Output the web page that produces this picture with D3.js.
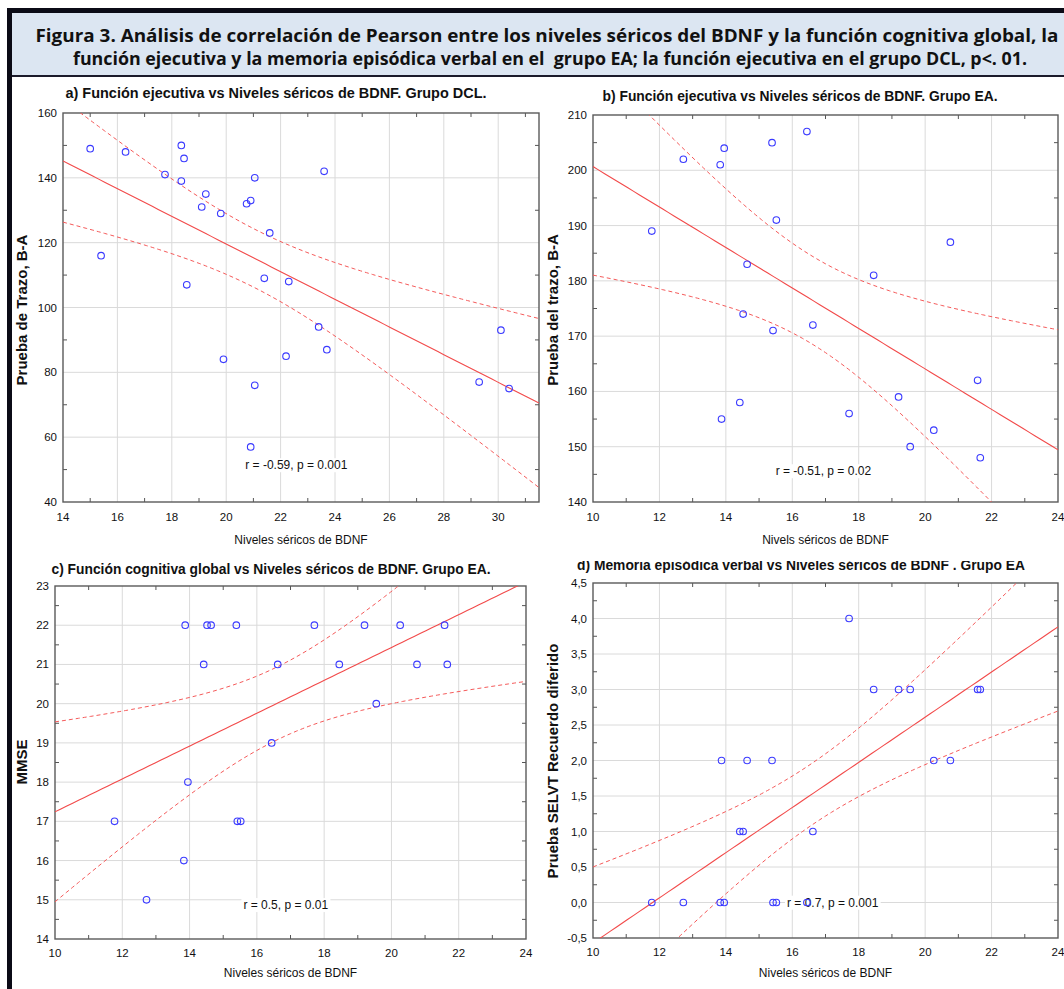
<!DOCTYPE html>
<html>
<head>
<meta charset="utf-8">
<script src="https://cdn.jsdelivr.net/npm/d3@7"></script>
<style>
  body { margin: 0; background: #fff; }
  svg { display: block; }
  text { font-family: "Liberation Sans", Arial, sans-serif; }
</style>
</head>
<body>
<script>
// Grupo DCL: BDNF vs Prueba de Trazo B-A
const dclBdnf = [15.0, 15.4, 16.3, 17.75, 18.35, 18.45, 18.35, 18.55, 19.25, 19.1, 19.8, 20.75, 20.9, 21.05,
  21.6, 21.4, 22.3, 23.6, 19.9, 21.05, 20.9, 22.2, 23.4, 23.7, 30.1, 29.3, 30.4];
const dclTrazo = [149, 116, 148, 141, 150, 146, 139, 107, 135, 131, 129, 132, 133, 140,
  123, 109, 108, 142, 84, 76, 57, 85, 94, 87, 93, 77, 75];

// Grupo EA: same subjects in panels b, c, d
const eaBdnf = [11.77, 12.72, 13.83, 13.87, 13.95, 14.42, 14.52, 14.64, 15.39, 15.42, 15.52,
  16.44, 16.62, 17.71, 18.45, 19.2, 19.55, 20.26, 20.76, 21.58, 21.66];
const eaTrazo = [189, 202, 201, 155, 204, 158, 174, 183, 205, 171, 191,
  207, 172, 156, 181, 159, 150, 153, 187, 162, 148];
const eaMmse = [17, 15, 16, 22, 18, 21, 22, 22, 22, 17, 17,
  19, 21, 22, 21, 22, 20, 22, 21, 22, 21];
const eaSelvt = [0, 0, 0, 2, 0, 1, 1, 2, 2, 0, 0,
  0, 1, 4, 3, 3, 3, 2, 2, 3, 3];

// ticks
const xTicksA = [14, 16, 18, 20, 22, 24, 26, 28, 30];
const yTicksA = [40, 60, 80, 100, 120, 140, 160];
const xTicksEA = [10, 12, 14, 16, 18, 20, 22, 24];
const yTicksB = [140, 150, 160, 170, 180, 190, 200, 210];
const yTicksC = [14, 15, 16, 17, 18, 19, 20, 21, 22, 23];
const yTicksD = [-0.5, 0, 0.5, 1, 1.5, 2, 2.5, 3, 3.5, 4, 4.5];

// 95% t critical values (df = n - 2)
const tCrit = { 25: 2.0595, 19: 2.093 };

const W = 1064;
const H = 989;

const comma = d3.formatLocale({
  decimal: ',', thousands: '.', grouping: [3], currency: ['', ''], minus: '-',
}).format('.1f');

const svg = d3.select('body').append('svg')
  .attr('width', W)
  .attr('height', H);

// page frame and caption box
svg.append('rect').attr('width', W).attr('height', H).attr('fill', '#fff');
svg.append('rect').attr('x', 12).attr('y', 13).attr('width', W - 12).attr('height', 62)
  .attr('fill', '#dce6f2');
svg.append('rect').attr('x', 7).attr('y', 8).attr('width', W - 7).attr('height', 5)
  .attr('fill', '#0b0b16');
svg.append('rect').attr('x', 7).attr('y', 8).attr('width', 5).attr('height', H - 8)
  .attr('fill', '#0b0b16');
svg.append('rect').attr('x', 12).attr('y', 75).attr('width', W - 12).attr('height', 2)
  .attr('fill', '#1b1b2b');

const caption = [
  'Figura 3. Análisis de correlación de Pearson entre los niveles séricos del BDNF y la función cognitiva global, la',
  'función ejecutiva y la memoria episódica verbal en el  grupo EA; la función ejecutiva en el grupo DCL, p<. 01.',
];
const captionLen = [1023, 954];

svg.selectAll('.caption')
  .data(caption)
  .enter()
  .append('text')
  .attr('class', 'caption')
  .attr('x', (d, i) => (i === 0 ? 547 : 550))
  .attr('y', (d, i) => 42 + i * 23)
  .attr('text-anchor', 'middle')
  .attr('textLength', (d, i) => captionLen[i])
  .attr('lengthAdjust', 'spacingAndGlyphs')
  .style('font-family', '"Open Sans", "Noto Sans", sans-serif')
  .style('font-weight', 'bold')
  .style('font-size', '18px')
  .style('white-space', 'pre')
  .attr('fill', '#111')
  .text(d => d);

function fitLine(xs, ys, t) {
  const n = xs.length;
  const mx = d3.mean(xs);
  const my = d3.mean(ys);
  let sxx = 0;
  let sxy = 0;
  for (let i = 0; i < n; i += 1) {
    sxx += (xs[i] - mx) ** 2;
    sxy += (xs[i] - mx) * (ys[i] - my);
  }
  const b = sxy / sxx;
  const a = my - b * mx;
  const sse = d3.sum(xs, (v, i) => (ys[i] - a - b * v) ** 2);
  const s = Math.sqrt(sse / (n - 2));
  return (xv) => {
    const yh = a + b * xv;
    const h = t * s * Math.sqrt(1 / n + (xv - mx) ** 2 / sxx);
    return [yh, yh - h, yh + h];
  };
}

function drawPanel(p) {
  const x = d3.scaleLinear().domain(p.xDomain).range([p.left, p.right]);
  const y = d3.scaleLinear().domain(p.yDomain).range([p.bottom, p.top]);
  const g = svg.append('g');

  const clipId = `clip-${p.id}`;
  svg.append('clipPath').attr('id', clipId)
    .append('rect')
    .attr('x', p.left)
    .attr('y', p.top)
    .attr('width', p.right - p.left)
    .attr('height', p.bottom - p.top);

  const [x0, x1] = p.xDomain;
  const [y0, y1] = p.yDomain;
  const eps = 1e-6;

  // grid
  g.selectAll('.gx')
    .data(p.xTicks.filter(v => v > x0 + eps && v < x1 - eps))
    .enter()
    .append('line')
    .attr('x1', d => x(d)).attr('x2', d => x(d))
    .attr('y1', p.top).attr('y2', p.bottom)
    .attr('stroke', '#dadada');
  g.selectAll('.gy')
    .data(p.yTicks.filter(v => v > y0 + eps && v < y1 - eps))
    .enter()
    .append('line')
    .attr('x1', p.left).attr('x2', p.right)
    .attr('y1', d => y(d)).attr('y2', d => y(d))
    .attr('stroke', '#dadada');

  // minor ticks on all four sides
  const xMinor = d3.range(p.xTicks[0] - p.xStep / 2, x1 + eps, p.xStep)
    .filter(v => v > x0 + eps && v < x1 - eps);
  const yMinor = d3.range(p.yTicks[0] + p.yStep / 2, y1, p.yStep)
    .filter(v => v > y0 + eps && v < y1 - eps);
  const tk = 4;
  xMinor.forEach((v) => {
    g.append('line').attr('x1', x(v)).attr('x2', x(v))
      .attr('y1', p.bottom).attr('y2', p.bottom - tk).attr('stroke', '#555');
    g.append('line').attr('x1', x(v)).attr('x2', x(v))
      .attr('y1', p.top).attr('y2', p.top + tk).attr('stroke', '#555');
  });
  yMinor.forEach((v) => {
    g.append('line').attr('x1', p.left).attr('x2', p.left + tk)
      .attr('y1', y(v)).attr('y2', y(v)).attr('stroke', '#555');
    g.append('line').attr('x1', p.right).attr('x2', p.right - tk)
      .attr('y1', y(v)).attr('y2', y(v)).attr('stroke', '#555');
  });

  // frame
  g.append('rect')
    .attr('x', p.left).attr('y', p.top)
    .attr('width', p.right - p.left).attr('height', p.bottom - p.top)
    .attr('fill', 'none')
    .attr('stroke', '#5a5a5a')
    .attr('stroke-width', 1.4);

  // tick labels
  g.selectAll('.xl')
    .data(p.xTicks)
    .enter()
    .append('text')
    .attr('x', d => x(d))
    .attr('y', p.bottom + p.xLabelGap)
    .attr('text-anchor', 'middle')
    .style('font-size', '11.5px')
    .attr('fill', '#111')
    .text(d => d);
  g.selectAll('.yl')
    .data(p.yTicks)
    .enter()
    .append('text')
    .attr('x', p.left - 6)
    .attr('y', d => y(d) + 4)
    .attr('text-anchor', 'end')
    .style('font-size', '11.5px')
    .attr('fill', '#111')
    .text(d => p.yFormat(d));

  // regression line with 95% confidence band
  const f = fitLine(p.xs, p.ys, p.t);
  const samples = d3.range(0, 81).map(i => x0 + (x1 - x0) * i / 80);
  const fits = samples.map(v => [v, ...f(v)]);
  const lineAt = k => d3.line().x(d => x(d[0])).y(d => y(d[k]));
  const fg = g.append('g').attr('clip-path', `url(#${clipId})`);
  fg.append('path')
    .attr('d', lineAt(1)(fits))
    .attr('fill', 'none')
    .attr('stroke', '#f24a4a')
    .attr('stroke-width', 1.1);
  [2, 3].forEach((k) => {
    fg.append('path')
      .attr('d', lineAt(k)(fits))
      .attr('fill', 'none')
      .attr('stroke', '#f55a5a')
      .attr('stroke-width', 1)
      .attr('stroke-dasharray', '4,3');
  });

  // correlation note (opaque background like the original)
  const note = g.append('text')
    .attr('x', x(p.noteAt[0]))
    .attr('y', y(p.noteAt[1]))
    .attr('dy', '0.35em')
    .style('font-size', '12px')
    .attr('fill', '#111')
    .text(p.note);
  const bb = note.node().getBBox();
  g.insert('rect', () => note.node())
    .attr('x', bb.x - 2).attr('y', bb.y)
    .attr('width', bb.width + 4).attr('height', bb.height)
    .attr('fill', '#fff');

  // points
  g.selectAll('.pt')
    .data(p.xs.map((v, i) => [v, p.ys[i]]))
    .enter()
    .append('circle')
    .attr('cx', d => x(d[0]))
    .attr('cy', d => y(d[1]))
    .attr('r', 3.3)
    .attr('fill', 'none')
    .attr('stroke', '#3a3aff')
    .attr('stroke-width', 1.1);

  // titles
  const tg = svg.append('g');
  if (p.titleClip) {
    svg.append('clipPath').attr('id', `tclip-${p.id}`)
      .append('rect')
      .attr('x', 0).attr('y', p.titleClip)
      .attr('width', W).attr('height', 40);
    tg.attr('clip-path', `url(#tclip-${p.id})`);
  }
  tg.append('text')
    .attr('x', p.titleX)
    .attr('y', p.titleY)
    .attr('text-anchor', 'middle')
    .attr('textLength', p.titleLen)
    .attr('lengthAdjust', 'spacingAndGlyphs')
    .style('font-size', '14px')
    .style('font-weight', 'bold')
    .attr('fill', '#111')
    .text(p.title);

  g.append('text')
    .attr('x', (p.left + p.right) / 2)
    .attr('y', p.bottom + p.xTitleGap)
    .attr('text-anchor', 'middle')
    .style('font-size', '12px')
    .attr('fill', '#111')
    .text(p.xTitle);

  g.append('text')
    .attr('transform', `translate(${p.yTitleX},${p.yTitleY}) rotate(-90)`)
    .attr('text-anchor', 'middle')
    .style('font-size', '15px')
    .style('font-weight', 'bold')
    .attr('fill', '#111')
    .text(p.yTitle);
}

const intFmt = d => String(d);

drawPanel({
  id: 'a',
  xs: dclBdnf,
  ys: dclTrazo,
  t: tCrit[dclBdnf.length - 2],
  xDomain: [14, 31.5],
  yDomain: [40, 160],
  xTicks: xTicksA,
  yTicks: yTicksA,
  xStep: 2,
  yStep: 20,
  yFormat: intFmt,
  left: 63,
  right: 539,
  top: 113,
  bottom: 502,
  xLabelGap: 19,
  xTitleGap: 42,
  title: 'a) Función ejecutiva vs Niveles séricos de BDNF. Grupo DCL.',
  titleX: 276,
  titleY: 98,
  titleLen: 421,
  xTitle: 'Niveles séricos de BDNF',
  yTitle: 'Prueba de Trazo, B-A',
  yTitleX: 26.5,
  yTitleY: 310,
  note: 'r = -0.59, p = 0.001',
  noteAt: [20.7, 51.4],
});

drawPanel({
  id: 'b',
  xs: eaBdnf,
  ys: eaTrazo,
  t: tCrit[eaBdnf.length - 2],
  xDomain: [10, 24],
  yDomain: [140, 210],
  xTicks: xTicksEA,
  yTicks: yTicksB,
  xStep: 2,
  yStep: 10,
  yFormat: intFmt,
  left: 593,
  right: 1058,
  top: 115,
  bottom: 502,
  xLabelGap: 19,
  xTitleGap: 42,
  title: 'b) Función ejecutiva vs Niveles séricos de BDNF. Grupo EA.',
  titleX: 800,
  titleY: 101,
  titleLen: 395,
  xTitle: 'Nivels séricos de BDNF',
  yTitle: 'Prueba del trazo, B-A',
  yTitleX: 557.5,
  yTitleY: 310,
  note: 'r = -0.51, p = 0.02',
  noteAt: [15.5, 145.6],
});

drawPanel({
  id: 'c',
  xs: eaBdnf,
  ys: eaMmse,
  t: tCrit[eaBdnf.length - 2],
  xDomain: [10, 24],
  yDomain: [14, 23],
  xTicks: xTicksEA,
  yTicks: yTicksC,
  xStep: 2,
  yStep: 1,
  yFormat: intFmt,
  left: 55,
  right: 526,
  top: 586,
  bottom: 939,
  xLabelGap: 18,
  xTitleGap: 38,
  title: 'c) Función cognitiva global vs Niveles séricos de BDNF. Grupo EA.',
  titleX: 271,
  titleY: 574,
  titleLen: 439,
  xTitle: 'Niveles séricos de BDNF',
  yTitle: 'MMSE',
  yTitleX: 26.5,
  yTitleY: 762,
  note: 'r = 0.5, p = 0.01',
  noteAt: [15.6, 14.87],
});

drawPanel({
  id: 'd',
  xs: eaBdnf,
  ys: eaSelvt,
  t: tCrit[eaBdnf.length - 2],
  xDomain: [10, 24],
  yDomain: [-0.5, 4.5],
  xTicks: xTicksEA,
  yTicks: yTicksD,
  xStep: 2,
  yStep: 0.5,
  yFormat: comma,
  left: 593,
  right: 1058,
  top: 583,
  bottom: 938,
  xLabelGap: 18,
  xTitleGap: 39,
  title: 'd) Memoria episódica verbal vs Niveles séricos de BDNF . Grupo EA',
  titleX: 801,
  titleY: 570,
  titleLen: 448,
  titleClip: 561,
  xTitle: 'Niveles séricos de BDNF',
  yTitle: 'Prueba SELVT Recuerdo diferido',
  yTitleX: 557.5,
  yTitleY: 761,
  note: 'r = 0.7, p = 0.001',
  noteAt: [15.84, 0],
});
</script>
</body>
</html>
